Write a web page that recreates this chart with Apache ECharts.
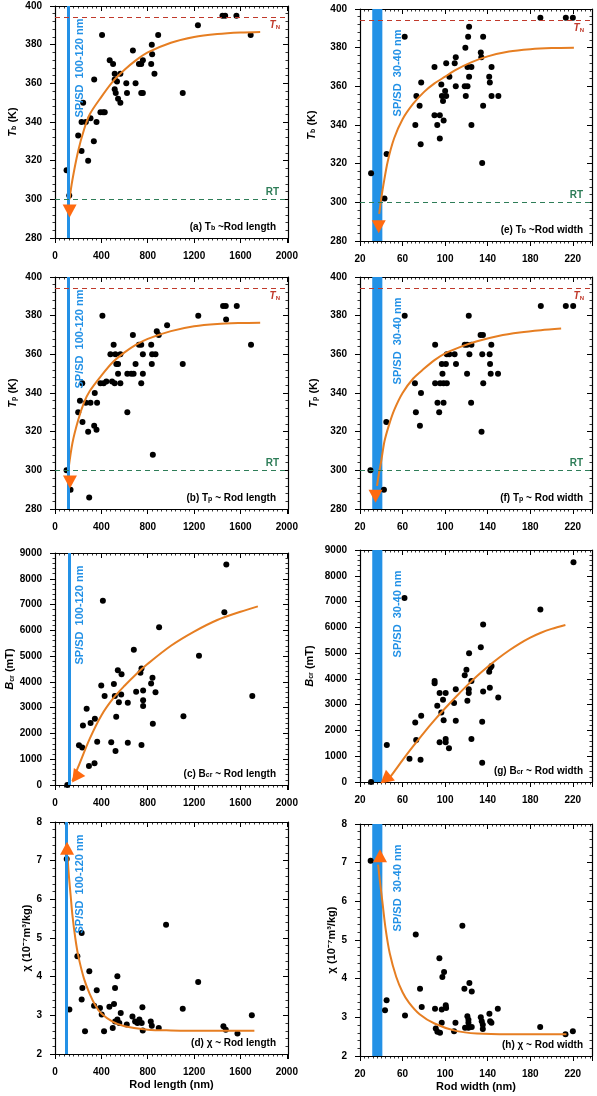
<!DOCTYPE html>
<html>
<head>
<meta charset="utf-8">
<script src="https://cdn.jsdelivr.net/npm/echarts@6/dist/echarts.min.js"></script>
<style>
html, body { margin: 0; padding: 0; background: #fff; }
#chart { width: 597px; height: 1096px; }
</style>
</head>
<body>
<div id="chart"></div>
<script>
// ---- data: [rod size (nm), value] ----
var tbLength = [[100,315],[123,302],[200,333],[229,325],[229,340],[243,350],[266,340],[286,320],[306,342],[335,330],[338,362],[358,340],[392,345],[415,345],[429,345],[406,385],[472,372],[501,370],[515,365],[515,362],[515,357],[524,355],[535,361],[544,352],[564,350],[564,365],[615,360],[621,355],[672,377],[695,360],[724,370],[744,370],[744,355],[758,355],[758,372],[830,370],[835,380],[838,375],[858,365],[890,385],[1102,355],[1233,390],[1445,395],[1468,395],[1565,395],[1688,385]];
var tpLength = [[100,300],[134,290],[295,286],[200,330],[215,336],[235,345],[237,325],[266,335],[286,320],[306,335],[338,323],[343,340],[358,321],[363,335],[392,345],[409,380],[420,345],[443,346],[478,360],[492,346],[506,365],[515,345],[521,360],[529,355],[544,350],[544,355],[564,360],[564,345],[624,330],[624,350],[658,350],[672,370],[678,350],[695,355],[724,365],[744,365],[744,345],[758,350],[758,360],[830,365],[835,355],[838,360],[844,308],[867,360],[878,372],[895,370],[967,375],[1102,355],[1236,380],[1450,385],[1473,385],[1476,378],[1568,385],[1691,365]];
var bcrLength = [[106,0],[207,1540],[235,1450],[241,2310],[273,2960],[293,740],[307,2410],[341,840],[344,2570],[364,1680],[399,3860],[413,7150],[428,3450],[485,1660],[508,3920],[516,3450],[522,1320],[528,2650],[542,4450],[551,3210],[571,3510],[574,4300],[628,3190],[628,1640],[680,5250],[700,3620],[737,4350],[746,4520],[746,1550],[760,3670],[760,3290],[760,3060],[829,3940],[841,4160],[844,2380],[867,3600],[898,6120],[1108,2670],[1242,5010],[1461,6700],[1478,8550],[1702,3450]];
var chiLength = [[101,7.04],[124,3.15],[193,4.53],[230,5.13],[236,3.71],[230,3.41],[259,2.59],[296,4.14],[337,3.25],[360,3.65],[388,3.19],[403,3.02],[423,2.59],[469,3.22],[498,2.67],[509,3.29],[518,3.71],[518,2.84],[538,4.01],[538,2.89],[555,2.8],[567,3.06],[619,2.76],[668,2.97],[691,2.84],[711,2.8],[728,2.89],[748,2.8],[754,3.21],[757,2.61],[826,2.84],[835,2.73],[895,2.67],[958,5.34],[1102,3.17],[1235,3.86],[1453,2.72],[1473,2.63],[1574,2.53],[1698,3.0]];

var tbWidth = [[30.4,315],[43,302],[45,325],[62,385.6],[72,340],[73,355],[76,350],[77,330],[77.5,362],[90,370],[90,345],[92.6,340],[95,345],[95,333],[96.4,361],[97,355],[98,352.4],[98.6,342.3],[100,357.6],[101,355],[101,372],[104,365],[109,372],[110,375],[110,360],[118.4,360],[119,380],[119.4,355],[121,360],[121,370],[121.6,385.6],[122.5,390.8],[122.5,365],[124.7,370],[124.7,340],[133.5,377.5],[134,375],[134.8,320.4],[135.7,385.6],[135.7,350],[141.4,365],[142,362],[143.6,370],[143.6,355],[150,355],[189.5,395.5],[213.4,395.5],[220,395.5]];
var tpWidth = [[29.8,300],[42.5,290],[44.7,325],[62,380],[71.6,345],[72.5,330],[77.3,340],[76.3,323],[90.6,365],[90.6,345],[92.8,335],[94.4,330],[95.3,345],[96.9,355],[97.5,350],[98.5,335],[98.5,345],[100.7,355],[101.6,360],[101.6,345],[103.9,360],[108.9,360],[110.2,355],[118.4,365],[120.6,365],[120.6,350],[122.2,380],[122.8,360],[124.7,365],[124.4,335],[133.3,370],[135.5,370],[134.9,360],[134.2,320],[135.8,345],[141.8,360],[142.2,355],[142.8,350],[143.4,365],[149.7,350],[189.9,385],[213.4,385],[220.3,385]];
var bcrWidth = [[30.4,0],[45.2,1440],[61.8,7140],[66.5,900],[71.9,2310],[72.8,1630],[76.9,860],[77.5,2570],[90.1,3920],[90.1,3830],[92.6,2960],[94.8,3450],[94.8,1540],[96.4,2700],[98,3190],[98.6,2400],[100.5,3450],[100.5,1670],[100.5,1540],[103.6,1310],[108.4,3060],[110,3600],[110,2380],[118.4,4140],[120,4350],[120.9,3150],[122.2,3450],[122.2,3600],[122.5,4990],[124.7,3920],[124.7,1670],[133.5,5230],[134.8,2340],[134.8,750],[135.7,3510],[135.7,6110],[142,3660],[141.4,4280],[142.6,4440],[143.6,4500],[149.9,3280],[189.5,6690],[220.6,8520]];
var chiWidth = [[30,7.05],[43.5,3.18],[45,3.44],[62.3,3.05],[72.4,5.14],[76.4,3.74],[78,3.27],[90.5,3.22],[91.2,2.71],[92.7,2.63],[94.6,4.53],[95.2,2.6],[96.8,3.2],[96.8,2.86],[97.4,4.04],[99,4.17],[100.6,3.31],[100.9,3.24],[108.4,2.64],[109.7,2.86],[116.2,5.37],[118.1,3.74],[118.7,2.73],[120.9,3.03],[121.9,2.94],[121.9,2.86],[121.9,2.73],[122.8,3.89],[125,3.67],[125,2.75],[133.5,3.0],[134.4,2.9],[135.4,2.81],[135.4,2.7],[141.6,3.09],[142.3,2.9],[143.5,2.86],[149.5,3.22],[189.3,2.75],[213.1,2.56],[220,2.64]];

// fitted curves
var tbLengthFit = [[125,300],[150,310],[200,325],[250,336],[300,344],[400,353],[500,361],[600,367],[700,372],[800,376],[1000,381],[1200,384],[1400,385.5],[1600,386.3],[1770,386.6]];
var tpLengthFit = [[115,300],[150,314],[200,326],[250,335],[300,341],[400,349],[500,356],[600,361],[700,365],[800,368],[1000,372],[1200,374.5],[1400,375.7],[1600,376.2],[1770,376.4]];
var bcrLengthFit = [[150,150],[200,700],[300,1800],[400,2700],[500,3350],[600,3850],[700,4300],[800,4700],[1000,5400],[1200,5950],[1400,6400],[1600,6720],[1750,6930]];
var chiLengthFit = [[108,7.1],[120,6.6],[135,6.1],[150,5.6],[175,5.0],[200,4.55],[250,3.95],[300,3.55],[350,3.25],[400,3.05],[500,2.83],[600,2.72],[800,2.63],[1000,2.61],[1300,2.6],[1720,2.6]];
var tbWidthFit = [[38,294],[40,302],[42,309],[46,321],[52,333],[60,343],[70,351],[80,357],[90,361.5],[100,365],[110,368.5],[125,372.5],[140,375.5],[160,378],[180,379.2],[200,379.8],[221,380]];
var tpWidthFit = [[36,292],[38,299],[40,305],[43,315],[47,323],[52,331],[60,340],[70,347.5],[80,352.5],[90,357],[100,360.5],[115,364],[130,366.8],[150,369.5],[170,371.3],[190,372.5],[209,373.3]];
var bcrWidthFit = [[46,100],[49,230],[60,850],[70,1390],[80,1910],[90,2400],[100,2860],[110,3300],[120,3720],[130,4110],[140,4470],[150,4800],[160,5100],[170,5370],[180,5600],[190,5790],[200,5940],[213,6090]];
var chiWidthFit = [[37,6.95],[39,6.45],[41,6.0],[44,5.3],[48,4.65],[54,4.05],[60,3.65],[66,3.38],[76,3.08],[90,2.84],[110,2.65],[130,2.58],[160,2.56],[214,2.56]];

// arrow heads at the curve ends
var arrowHeads = [[[126,294]],[[129,294]],[[180,300]],[[104,7.32]],[[37.6,287.4]],[[34.6,286.6]],[[43.9,103]],[[38.8,7.18]]];

// SP/SD boundary: line position (rod length) and band (rod width)
var spsdLength = [114, 114, 121, 101];
var spsdWidth = [31.5, 41];
var tNeel = 394;
var roomT = 300;

var panelTags = ['(a)','(b)','(c)','(d)','(e)','(f)','(g)','(h)'];

// ---- styles / layout ----
var FONT = 'Liberation Sans, Arial, sans-serif';
var BLUE = '#2391E6';
var ORANGE = '#E67E22';
var ARROW = '#FF6A10';
var RED = '#C0392B';
var GREEN = '#2E7D58';

var colLeft = [55, 360];
var colWidth = [233, 232];
var panelTop = [[6, 277, 553, 822], [9, 277, 550, 824]];
var panelH = 232;
var arrowRotate = [180, 180, 145, 0, 180, 180, 130, 0];
var nameGaps = [[37, 37, 38, 22], [43, 41, 45, 21]];

var xRanges = [{min: 0, max: 2010, interval: 400, minor: 10}, {min: 20, max: 238, interval: 40, minor: 10}];
var yRanges = [
    {min: 280, max: 400, interval: 20, minor: 5},
    {min: 280, max: 400, interval: 20, minor: 5},
    {min: 0, max: 9000, interval: 1000, minor: 5},
    {min: 2, max: 8, interval: 1, minor: 5}
];

var yNames = ['{i|T}{s|b} (K)', '{i|T}{s|p} (K)', '{i|B}{s|cr} (mT)', 'χ (10⁻⁷m³/kg)'];
var titleTexts = [
    ' T{s|b} ~Rod length', ' T{s|p} ~ Rod length', ' B{s|cr} ~ Rod length', ' χ ~ Rod length',
    ' T{s|b} ~Rod width', ' T{s|p} ~ Rod width', ' B{s|cr} ~ Rod width', ' χ ~ Rod width'
];

var dots = [tbLength, tpLength, bcrLength, chiLength, tbWidth, tpWidth, bcrWidth, chiWidth];
var fits = [tbLengthFit, tpLengthFit, bcrLengthFit, chiLengthFit, tbWidthFit, tpWidthFit, bcrWidthFit, chiWidthFit];

// fresh rich styles each call, never shared between models
function subRich(color) {
    return {
        i: {fontStyle: 'italic', fontWeight: 'bold', fontSize: 11, fontFamily: FONT, color: color},
        s: {fontWeight: 'bold', fontSize: 7, fontFamily: FONT, color: color, verticalAlign: 'bottom'}
    };
}

function makeAxis(r, i, pos, showLabel, inside) {
    return {
        type: 'value', gridIndex: i, position: pos,
        min: r.min, max: r.max, interval: r.interval,
        silent: true,
        axisLine: {show: true, onZero: false, lineStyle: {color: '#000', width: 1.2}},
        axisTick: {show: true, inside: inside, length: 5, lineStyle: {color: '#000', width: 1}},
        minorTick: {show: true, splitNumber: r.minor, length: 2.5, lineStyle: {color: '#000', width: 0.8}},
        splitLine: {show: false},
        minorSplitLine: {show: false},
        axisLabel: {show: showLabel, fontSize: 10, fontWeight: 'bold', fontFamily: FONT, color: '#000', margin: 13,
            formatter: function (v) { return String(v); }}
    };
}

function build(withXName) {
    var grids = [], xAxes = [], yAxes = [], series = [], graphics = [];
    for (var i = 0; i < 8; i++) {
        var col = i < 4 ? 0 : 1;
        var row = i % 4;
        var top = panelTop[col][row];
        var ax = 2 * i;
        grids.push({left: colLeft[col], top: top, width: colWidth[col], height: panelH, show: false});

        var xb = makeAxis(xRanges[col], i, 'bottom', true, false);
        xb.axisLabel.showMaxLabel = false;
        if (row === 3 && withXName) {
            xb.name = col === 0 ? 'Rod length (nm)' : 'Rod width (nm)';
            xb.nameLocation = 'middle';
            xb.nameGap = 25;
            xb.nameMoveOverlap = false;
            xb.nameTextStyle = {fontSize: 11, fontWeight: 'bold', fontFamily: FONT, color: '#000'};
        }
        xAxes.push(xb);
        xAxes.push(makeAxis(xRanges[col], i, 'top', false, true));

        var yl = makeAxis(yRanges[row], i, 'left', true, false);
        yl.name = yNames[row];
        yl.nameLocation = 'middle';
        yl.nameRotate = 90;
        yl.nameGap = nameGaps[col][row];
        yl.nameTextStyle = {fontSize: 11, fontWeight: 'bold', fontFamily: FONT, color: '#000', rich: subRich('#000')};
        yAxes.push(yl);
        yAxes.push(makeAxis(yRanges[row], i, 'right', false, true));

        // guides: SP/SD boundary, Neel temperature, room temperature
        var mlData = [];
        if (col === 0) {
            mlData.push({xAxis: spsdLength[row], lineStyle: {color: BLUE, width: 3, type: 'solid'}, label: {show: false}});
        }
        if (row < 2) {
            var tnRich = subRich(RED);
            tnRich.i.fontSize = 10;
            tnRich.s.fontSize = 6;
            mlData.push({yAxis: tNeel, lineStyle: {color: RED, width: 1, type: [5, 4]},
                label: {show: true, position: 'insideEndBottom', distance: [8, 3], formatter: '{i|T}{s|N}', rich: tnRich}});
            mlData.push({yAxis: roomT, lineStyle: {color: GREEN, width: 1, type: [5, 4]},
                label: {show: true, position: 'insideEndTop', distance: [9, 2], formatter: 'RT',
                    fontWeight: 'bold', fontSize: 10, fontFamily: FONT, color: GREEN}});
        }
        var guide = {type: 'line', xAxisIndex: ax, yAxisIndex: ax, data: [], z: 1, silent: true};
        if (mlData.length) guide.markLine = {symbol: ['none', 'none'], silent: true, data: mlData};
        if (col === 1) {
            guide.markArea = {silent: true, itemStyle: {color: BLUE, opacity: 1},
                data: [[{xAxis: spsdWidth[0]}, {xAxis: spsdWidth[1]}]]};
        }
        series.push(guide);

        series.push({
            type: 'scatter', xAxisIndex: ax, yAxisIndex: ax, data: dots[i], z: 3,
            symbol: 'circle', symbolSize: 6, itemStyle: {color: '#000', opacity: 1}
        });
        series.push({
            type: 'line', xAxisIndex: ax, yAxisIndex: ax, data: fits[i], z: 4,
            smooth: 0.3, showSymbol: false, symbol: 'none',
            lineStyle: {color: ORANGE, width: 2}
        });
        series.push({
            type: 'scatter', xAxisIndex: ax, yAxisIndex: ax, data: arrowHeads[i], z: 5, clip: false,
            symbol: 'triangle', symbolSize: [14, 13], symbolRotate: arrowRotate[i],
            itemStyle: {color: ARROW, opacity: 1}
        });

        // panel caption and SP/SD label
        graphics.push({
            type: 'text', z: 10, silent: true,
            x: colLeft[col] + colWidth[col] - (col === 0 ? 12 : 9),
            y: top + 221,
            style: {
                text: panelTags[i] + titleTexts[i],
                fontSize: 10, fontWeight: 'bold', fontFamily: FONT, fill: '#000',
                align: 'right', verticalAlign: 'middle',
                rich: {s: {fontSize: 7, fontWeight: 'bold', fontFamily: FONT, fill: '#000', verticalAlign: 'bottom'}}
            }
        });
        graphics.push({
            type: 'text', z: 10, silent: true,
            x: col === 0 ? 80 : 398,
            y: top + (col === 0 ? 62 : 64),
            rotation: Math.PI / 2,
            style: {
                text: col === 0 ? 'SP/SD  100-120 nm' : 'SP/SD  30-40 nm',
                fontSize: 11, fontWeight: 'bold', fontFamily: FONT, fill: BLUE,
                align: 'center', verticalAlign: 'middle'
            }
        });
    }
    return {animation: false, backgroundColor: '#fff', grid: grids, xAxis: xAxes, yAxis: yAxes,
        series: series, graphic: graphics};
}

var el = document.getElementById('chart');
var chart = echarts.init(el);
try {
    chart.setOption(build(true));
} catch (e) {
    // fall back to the version without x axis names
    chart.dispose();
    chart = echarts.init(el);
    chart.setOption(build(false));
}
</script>
</body>
</html>
